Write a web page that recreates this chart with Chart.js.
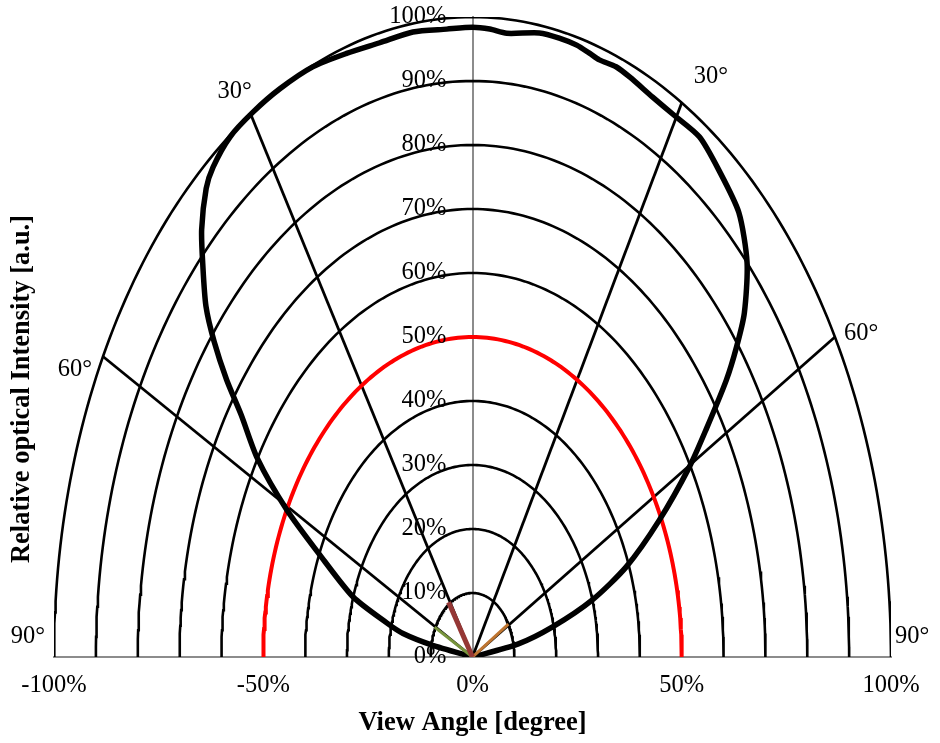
<!DOCTYPE html>
<html>
<head>
<meta charset="utf-8">
<script src="https://cdn.jsdelivr.net/npm/chart.js@4/dist/chart.umd.min.js"></script>
<style>
  html, body { margin: 0; padding: 0; background: #fff; }
  canvas { display: block; }
</style>
</head>
<body>
<canvas id="chart" width="940" height="743"></canvas>
<script>
/* ========= Data ========= */
const ringLevels    = [10, 20, 30, 40, 50, 60, 70, 80, 90, 100];
const redRing       = 50;
const yTicks        = [0, 10, 20, 30, 40, 50, 60, 70, 80, 90, 100];
const xTicks        = [-100, -50, 0, 50, 100];
const spokeAngles   = [-62, -32, 30, 60];
const spokeLabels   = ['60°', '30°', '30°', '60°'];
const edgeLabels    = ['90°', '90°'];

// measured pattern: angle [deg] / relative intensity [%]
const patternAngles = [-90, -79, -77.5, -75.5, -71.8, -66.3, -62.6, -58.9, -55.6, -53.6, -51.4, -49.3,
  -46.4, -44.1, -41, -39, -35.5, -31.6, -27.4, -22.5, -17.7, -13, -8.3, -3.6, 0, 2.4, 4.8, 9.3,
  12.1, 14.6, 16.5, 18, 20.4, 22.5, 26.2, 29.6, 33.7, 37.7, 42.5, 46.8, 50.4, 52.5, 54.5, 57.5,
  60.2, 64.4, 69, 72.7, 76.2, 79.5, 90];
const patternValues = [0, 10, 17, 21, 30, 40, 50, 60, 67, 73, 79, 84,
  89, 93, 97, 98.5, 99.8, 100, 100, 99.8, 99, 98.5, 98.7, 98.3, 98.4, 98.2, 97.8, 98.8,
  98.9, 98.8, 98.4, 98.1, 98.4, 98.1, 97.5, 97.4, 97.7, 96.2, 94.2, 90, 84.3, 79.5, 74.5, 66.2,
  59.7, 49.5, 39.4, 30, 19.7, 11, 0];

// short coloured markers from the origin
const markerAngles  = [-33.7, -62.7, 59];
const markerLengths = [10.3, 10.2, 10];
const markerColors  = ['#953735', '#77933c', '#bf7530'];

/* ========= Helpers ========= */
const FONT = '"Liberation Serif", "Times New Roman", serif';
const TICK_SIZE = 24.5;

function polar(deg, r) {
  const a = deg * Math.PI / 180;
  return { x: r * Math.sin(a), y: r * Math.cos(a) };
}

function ring(r) {
  const pts = [];
  for (let d = -90; d <= 90; d += 1) pts.push(polar(d, r));
  return pts;
}

function lineSet(data, color, width, order, tension = 0) {
  return {
    data, order, tension,
    showLine: true,
    borderColor: color,
    borderWidth: width,
    pointRadius: 0,
    pointHoverRadius: 0,
    fill: false
  };
}

/* ========= Datasets ========= */
const datasets = [];

markerAngles.forEach((a, i) => {
  datasets.push(lineSet([polar(0, 0), polar(a, markerLengths[i])], markerColors[i], i === 0 ? 5 : 3, i));
});

datasets.push(lineSet(patternAngles.map((a, i) => polar(a, patternValues[i])), '#000', 5.5, 5, 0.25));

datasets.push(lineSet(ring(redRing), '#ff0000', 4, 6));

ringLevels.filter(r => r !== redRing).forEach(r => {
  datasets.push(lineSet(ring(r), '#000', 2.6, 10));
});

spokeAngles.forEach(a => {
  datasets.push(lineSet([polar(0, 0), polar(a, 100)], '#000', 2.8, 9));
});

/* ========= Labels plugin ========= */
const labelPlugin = {
  id: 'labels',
  afterDraw(chart) {
    const { ctx, scales: { x, y }, chartArea } = chart;
    ctx.save();
    ctx.fillStyle = '#000';
    ctx.font = TICK_SIZE + 'px ' + FONT;
    ctx.textBaseline = 'middle';

    // y tick labels, left of the centre axis
    ctx.textAlign = 'right';
    const axisX = x.getPixelForValue(0);
    y.ticks.forEach(t => {
      ctx.fillText(t.value + '%', axisX - 26, y.getPixelForValue(t.value));
    });

    // spoke angle labels
    const offs = [
      { dx: -11, dy: 13, align: 'right' },
      { dx: -16, dy: -23, align: 'center' },
      { dx: 12, dy: -26, align: 'left' },
      { dx: 9, dy: -3, align: 'left' }
    ];
    spokeAngles.forEach((a, i) => {
      const p = polar(a, 100);
      ctx.textAlign = offs[i].align;
      ctx.fillText(spokeLabels[i], x.getPixelForValue(p.x) + offs[i].dx, y.getPixelForValue(p.y) + offs[i].dy);
    });

    // 90° labels at the ends of the base line
    ctx.textAlign = 'right';
    ctx.fillText(edgeLabels[0], x.getPixelForValue(-100) - 9, y.getPixelForValue(0) - 20);
    ctx.textAlign = 'left';
    ctx.fillText(edgeLabels[1], x.getPixelForValue(100) + 4, y.getPixelForValue(0) - 20);

    // axis titles
    ctx.font = 'bold 26.5px ' + FONT;
    ctx.textAlign = 'center';
    ctx.fillText('View Angle [degree]', (chartArea.left + chartArea.right) / 2, 723);
    ctx.translate(22, 389);
    ctx.rotate(-Math.PI / 2);
    ctx.fillText('Relative optical Intensity [a.u.]', 0, 0);
    ctx.restore();
  }
};

/* ========= Chart ========= */
const tickFont = { family: FONT, size: TICK_SIZE };

new Chart(document.getElementById('chart'), {
  type: 'scatter',
  data: { datasets },
  options: {
    responsive: false,
    animation: false,
    events: [],
    layout: { padding: { left: 54, right: 49, top: 17, bottom: 86 } },
    plugins: { legend: { display: false }, tooltip: { enabled: false } },
    scales: {
      x: {
        type: 'linear', min: -100, max: 100,
        position: { y: 0 },
        afterBuildTicks: s => { s.ticks = xTicks.map(v => ({ value: v })); },
        ticks: { callback: v => v + '%', font: tickFont, color: '#000', padding: 14, maxRotation: 0, autoSkip: false },
        grid: { display: false, drawTicks: false },
        border: { display: true, color: '#8c8c8c', width: 2 }
      },
      y: {
        type: 'linear', min: 0, max: 100,
        position: { x: 0 },
        afterBuildTicks: s => { s.ticks = yTicks.map(v => ({ value: v })); },
        afterFit: s => { s.paddingTop = 0; s.paddingBottom = 0; },
        ticks: { display: false, padding: 0 },
        grid: { display: false, drawTicks: false },
        border: { display: true, color: '#8c8c8c', width: 2 }
      }
    }
  },
  plugins: [labelPlugin]
});
</script>
</body>
</html>
